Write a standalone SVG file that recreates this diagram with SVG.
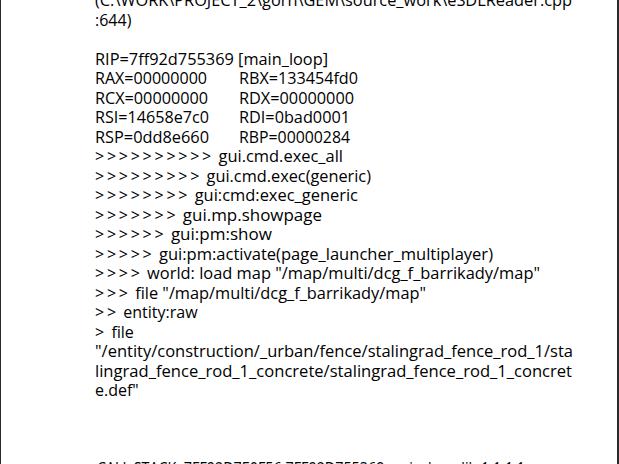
<svg xmlns="http://www.w3.org/2000/svg" width="619" height="464" viewBox="0 0 619 464">
<style>
  text { font-family: "Open Sans", "Noto Sans", "DejaVu Sans", sans-serif; font-size: 16px; fill: #000; }
  .b { fill: #2a2a2a; }
</style>
<rect x="0" y="0" width="619" height="464" fill="#ffffff"/>
<rect class="b" x="0" y="0" width="1" height="464"/>
<rect class="b" x="617" y="0" width="2" height="464"/>
<g id="log">
  <text x="95" y="6" textLength="477" lengthAdjust="spacingAndGlyphs">(C:\WORK\PROJECT_2\gorn\GEM\source_work\eSDLReader.cpp</text>
  <text x="95" y="25.5">:644)</text>
  <text x="95" y="64.5" textLength="233" lengthAdjust="spacingAndGlyphs">RIP=7ff92d755369 [main_loop]</text>
  <text x="95" y="84" textLength="112" lengthAdjust="spacingAndGlyphs">RAX=00000000</text>
  <text x="239" y="84" textLength="119" lengthAdjust="spacingAndGlyphs">RBX=133454fd0</text>
  <text x="95" y="103.5" textLength="113" lengthAdjust="spacingAndGlyphs">RCX=00000000</text>
  <text x="239" y="103.5" textLength="115" lengthAdjust="spacingAndGlyphs">RDX=00000000</text>
  <text x="95" y="123" textLength="114" lengthAdjust="spacingAndGlyphs">RSI=14658e7c0</text>
  <text x="239" y="123" textLength="111" lengthAdjust="spacingAndGlyphs">RDI=0bad0001</text>
  <text x="95" y="142.5" textLength="114" lengthAdjust="spacingAndGlyphs">RSP=0dd8e660</text>
  <text x="239" y="142.5" textLength="111" lengthAdjust="spacingAndGlyphs">RBP=00000284</text>

  <text x="95 106.9 118.8 130.7 142.6 154.5 166.4 178.3 190.2 202.1" y="162">&gt;&gt;&gt;&gt;&gt;&gt;&gt;&gt;&gt;&gt;</text>
  <text x="218.5" y="162" textLength="124.5" lengthAdjust="spacingAndGlyphs">gui.cmd.exec_all</text>

  <text x="95 106.9 118.8 130.7 142.6 154.5 166.4 178.3 190.2" y="181.5">&gt;&gt;&gt;&gt;&gt;&gt;&gt;&gt;&gt;</text>
  <text x="206.6" y="181.5" textLength="164.4" lengthAdjust="spacingAndGlyphs">gui.cmd.exec(generic)</text>

  <text x="95 106.9 118.8 130.7 142.6 154.5 166.4 178.3" y="201">&gt;&gt;&gt;&gt;&gt;&gt;&gt;&gt;</text>
  <text x="194.7" y="201" textLength="163.3" lengthAdjust="spacingAndGlyphs">gui:cmd:exec_generic</text>

  <text x="95 106.9 118.8 130.7 142.6 154.5 166.4" y="220.5">&gt;&gt;&gt;&gt;&gt;&gt;&gt;</text>
  <text x="182.8" y="220.5" textLength="139.2" lengthAdjust="spacingAndGlyphs">gui.mp.showpage</text>

  <text x="95 106.9 118.8 130.7 142.6 154.5" y="240">&gt;&gt;&gt;&gt;&gt;&gt;</text>
  <text x="170.9" y="240" textLength="101" lengthAdjust="spacingAndGlyphs">gui:pm:show</text>

  <text x="95 106.9 118.8 130.7 142.6" y="259.5">&gt;&gt;&gt;&gt;&gt;</text>
  <text x="159" y="259.5" textLength="334" lengthAdjust="spacingAndGlyphs">gui:pm:activate(page_launcher_multiplayer)</text>

  <text x="95 106.9 118.8 130.7" y="279">&gt;&gt;&gt;&gt;</text>
  <text x="147.1" y="279" textLength="392.9" lengthAdjust="spacingAndGlyphs">world: load map "/map/multi/dcg_f_barrikady/map"</text>

  <text x="95 106.9 118.8" y="298.5">&gt;&gt;&gt;</text>
  <text x="135.2" y="298.5" textLength="290.8" lengthAdjust="spacingAndGlyphs">file "/map/multi/dcg_f_barrikady/map"</text>

  <text x="95 106.9" y="318">&gt;&gt;</text>
  <text x="123.3" y="318">entity:raw</text>

  <text x="95" y="337.5">&gt;</text>
  <text x="111.4" y="337.5">file</text>

  <text x="95" y="357" textLength="478" lengthAdjust="spacingAndGlyphs">"/entity/construction/_urban/fence/stalingrad_fence_rod_1/sta</text>
  <text x="95" y="376.5" textLength="477" lengthAdjust="spacingAndGlyphs">lingrad_fence_rod_1_concrete/stalingrad_fence_rod_1_concret</text>
  <text x="95" y="396">e.def"</text>

  <text x="97" y="473.5" textLength="428" lengthAdjust="spacingAndGlyphs">CALL STACK: 7FF92D7E0F56 7FF92D755369 main_loop lib 1 1 1 1</text>
</g>
</svg>
